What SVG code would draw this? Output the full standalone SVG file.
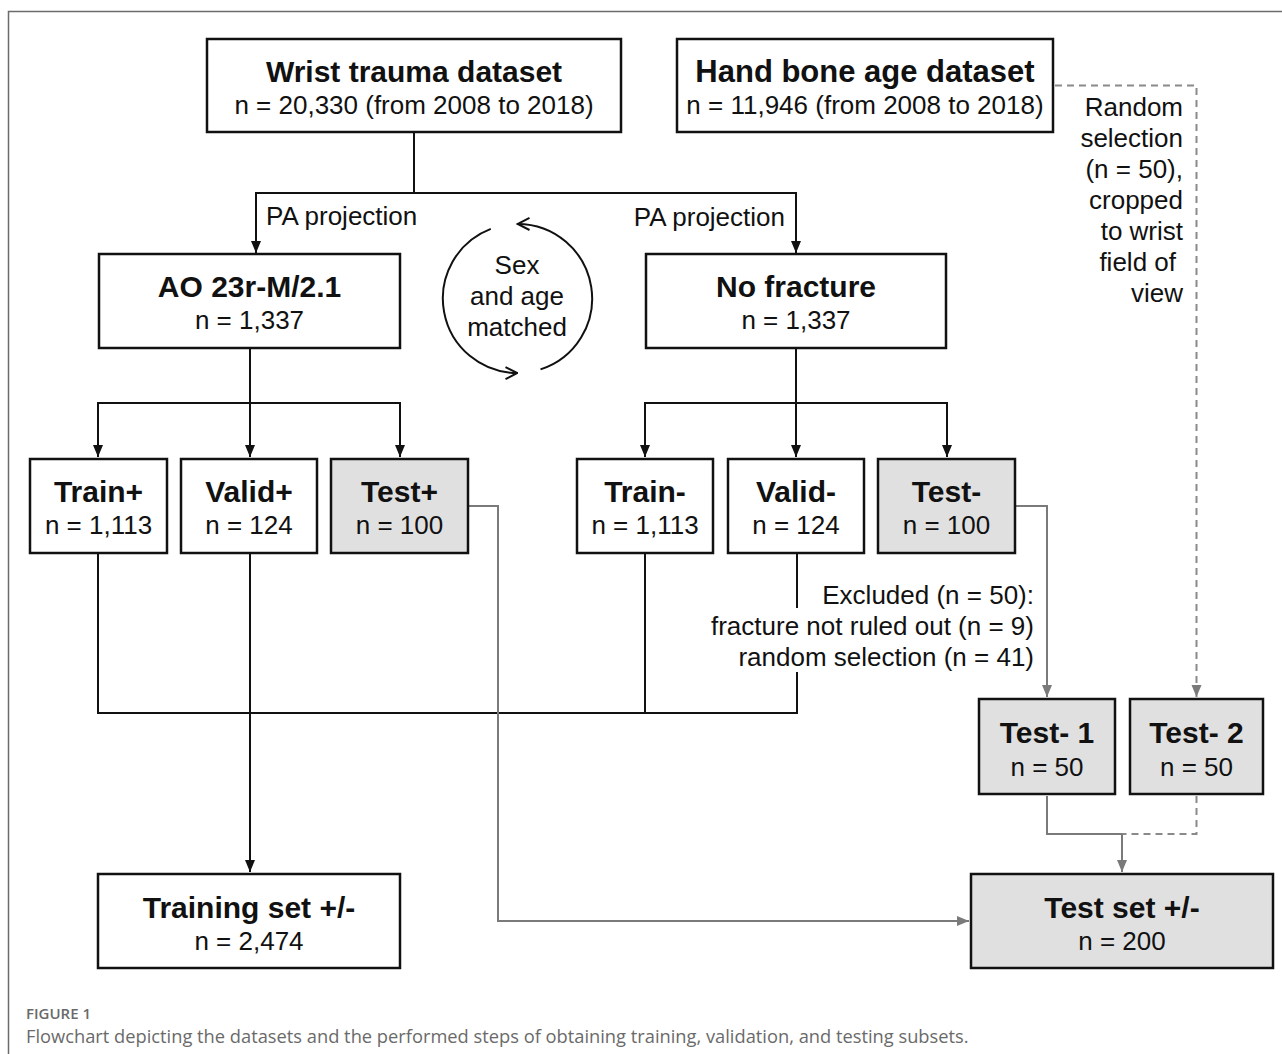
<svg xmlns="http://www.w3.org/2000/svg" width="1282" height="1054" viewBox="0 0 1282 1054">
<style>
.box{fill:#fff;stroke:#111;stroke-width:2.5}
.gbox{fill:#e0e0e0;stroke:#111;stroke-width:2.5}
.t{font-family:"Liberation Sans",Arial,sans-serif;font-weight:bold;font-size:30px;fill:#111;text-anchor:middle}
.n{font-family:"Liberation Sans",Arial,sans-serif;font-size:26px;fill:#111;text-anchor:middle}
.lbl{font-family:"Liberation Sans",Arial,sans-serif;font-size:26px;fill:#111}
.r{text-anchor:end}
.c{text-anchor:middle}
.ln{fill:none;stroke:#111;stroke-width:2}
.gl{fill:none;stroke:#7a7a7a;stroke-width:2}
.dl{fill:none;stroke:#8a8a8a;stroke-width:2;stroke-dasharray:7,5}
.cap{font-family:"Open Sans","Noto Sans",sans-serif;fill:#6a6a6a}
</style>
<defs>
<marker id="ab" markerUnits="userSpaceOnUse" viewBox="0 0 12 10" refX="12" refY="5" markerWidth="12" markerHeight="11" orient="auto"><path d="M0,0 L12,5 L0,10 z" fill="#111"/></marker>
<marker id="ag" markerUnits="userSpaceOnUse" viewBox="0 0 12 10" refX="12" refY="5" markerWidth="12" markerHeight="11" orient="auto"><path d="M0,0 L12,5 L0,10 z" fill="#7a7a7a"/></marker>
<marker id="ao" markerUnits="userSpaceOnUse" viewBox="0 0 14 14" refX="13" refY="7" markerWidth="14" markerHeight="14" orient="auto"><path d="M1,1 L13,7 L1,13" fill="none" stroke="#111" stroke-width="2"/></marker>
</defs>
<rect width="1282" height="1054" fill="#fff"/>
<path d="M8.5,1054 V11.5 H1282" fill="none" stroke="#6b6b6b" stroke-width="1.5"/>

<g id="connectors">
<path class="ln" d="M414,133 V193 H256 V253" marker-end="url(#ab)"/>
<path class="ln" d="M414,193 H796 V253" marker-end="url(#ab)"/>
<path class="ln" d="M250,349 V403 H98 V457" marker-end="url(#ab)"/>
<path class="ln" d="M250,403 V457" marker-end="url(#ab)"/>
<path class="ln" d="M250,403 H400 V457" marker-end="url(#ab)"/>
<path class="ln" d="M796,349 V403 H645 V457" marker-end="url(#ab)"/>
<path class="ln" d="M796,403 V457" marker-end="url(#ab)"/>
<path class="ln" d="M796,403 H947 V457" marker-end="url(#ab)"/>
<path class="ln" d="M98,554 V713 H797 V672"/>
<path class="ln" d="M797,554 V608"/>
<path class="ln" d="M645,554 V713"/>
<path class="ln" d="M250,554 V872" marker-end="url(#ab)"/>
<path class="gl" d="M469,506 H498 V921 H969" marker-end="url(#ag)"/>
<path class="gl" d="M1016,506 H1047 V697" marker-end="url(#ag)"/>
<path class="dl" d="M1055,85.5 H1196.5 V686"/>
<path d="M1196.5,686 V697" fill="none" stroke="#8a8a8a" stroke-width="2" marker-end="url(#ag)"/>
<path class="gl" d="M1047,796 V834 H1122"/>
<path class="dl" d="M1196.5,796 V834 H1122"/>
<path class="gl" d="M1122,834 V872" marker-end="url(#ag)"/>
<path class="ln" d="M540.5,369.4 A74.5,74.5 0 0 0 517.5,224" marker-end="url(#ao)"/>
<path class="ln" d="M490.8,228.9 A74.5,74.5 0 0 0 517.5,373" marker-end="url(#ao)"/>
</g>

<g id="wrist"><rect class="box" x="207" y="39" width="414" height="93"/><text class="t" x="414" y="82">Wrist trauma dataset</text><text class="n" x="414" y="114">n = 20,330 (from 2008 to 2018)</text></g>
<g id="hand"><rect class="box" x="677" y="39" width="376" height="93"/><text class="t" x="865" y="82" style="font-size:31px">Hand bone age dataset</text><text class="n" x="865" y="114">n = 11,946 (from 2008 to 2018)</text></g>
<g id="ao23"><rect class="box" x="99" y="254" width="301" height="94"/><text class="t" x="249.5" y="297">AO 23r-M/2.1</text><text class="n" x="249.5" y="329">n = 1,337</text></g>
<g id="nofracture"><rect class="box" x="646" y="254" width="300" height="94"/><text class="t" x="796" y="297">No fracture</text><text class="n" x="796" y="329">n = 1,337</text></g>
<g id="matched"><text class="lbl c" x="517" y="274">Sex</text><text class="lbl c" x="517" y="305">and age</text><text class="lbl c" x="517" y="336">matched</text></g>
<g id="pa-labels"><text class="lbl" x="266" y="225">PA projection</text><text class="lbl r" x="785" y="226">PA projection</text></g>
<g id="random-label"><text class="lbl r" x="1183" y="116">Random</text><text class="lbl r" x="1183" y="147">selection</text><text class="lbl r" x="1183" y="178">(n = 50),</text><text class="lbl r" x="1183" y="209">cropped</text><text class="lbl r" x="1183" y="240">to wrist</text><text class="lbl r" x="1176" y="271">field of</text><text class="lbl r" x="1183" y="302">view</text></g>
<g id="trainp"><rect class="box" x="30" y="459" width="137" height="94"/><text class="t" x="98.5" y="502">Train+</text><text class="n" x="98.5" y="534">n = 1,113</text></g>
<g id="validp"><rect class="box" x="181" y="459" width="136" height="94"/><text class="t" x="249" y="502">Valid+</text><text class="n" x="249" y="534">n = 124</text></g>
<g id="testp"><rect class="gbox" x="331" y="459" width="137" height="94"/><text class="t" x="399.5" y="502">Test+</text><text class="n" x="399.5" y="534">n = 100</text></g>
<g id="trainm"><rect class="box" x="577" y="459" width="136" height="94"/><text class="t" x="645" y="502">Train-</text><text class="n" x="645" y="534">n = 1,113</text></g>
<g id="validm"><rect class="box" x="728" y="459" width="136" height="94"/><text class="t" x="796" y="502">Valid-</text><text class="n" x="796" y="534">n = 124</text></g>
<g id="testm"><rect class="gbox" x="878" y="459" width="137" height="94"/><text class="t" x="946.5" y="502">Test-</text><text class="n" x="946.5" y="534">n = 100</text></g>
<g id="excluded"><text class="lbl r" x="1034" y="604">Excluded (n = 50):</text><text class="lbl r" x="1034" y="635">fracture not ruled out (n = 9)</text><text class="lbl r" x="1034" y="666">random selection (n = 41)</text></g>
<g id="test1"><rect class="gbox" x="979" y="699" width="136" height="95"/><text class="t" x="1047" y="743">Test- 1</text><text class="n" x="1047" y="776">n = 50</text></g>
<g id="test2"><rect class="gbox" x="1130" y="699" width="133" height="95"/><text class="t" x="1196.5" y="743">Test- 2</text><text class="n" x="1196.5" y="776">n = 50</text></g>
<g id="trainingset"><rect class="box" x="98" y="874" width="302" height="94"/><text class="t" x="249" y="918">Training set +/-</text><text class="n" x="249" y="950">n = 2,474</text></g>
<g id="testset"><rect class="gbox" x="971" y="874" width="302" height="94"/><text class="t" x="1122" y="918">Test set +/-</text><text class="n" x="1122" y="950">n = 200</text></g>

<g id="caption"><text class="cap" x="26" y="1019" style="font-size:15px;font-weight:600">FIGURE 1</text><text class="cap" x="26" y="1043" style="font-size:18.3px">Flowchart depicting the datasets and the performed steps of obtaining training, validation, and testing subsets.</text></g>
</svg>
